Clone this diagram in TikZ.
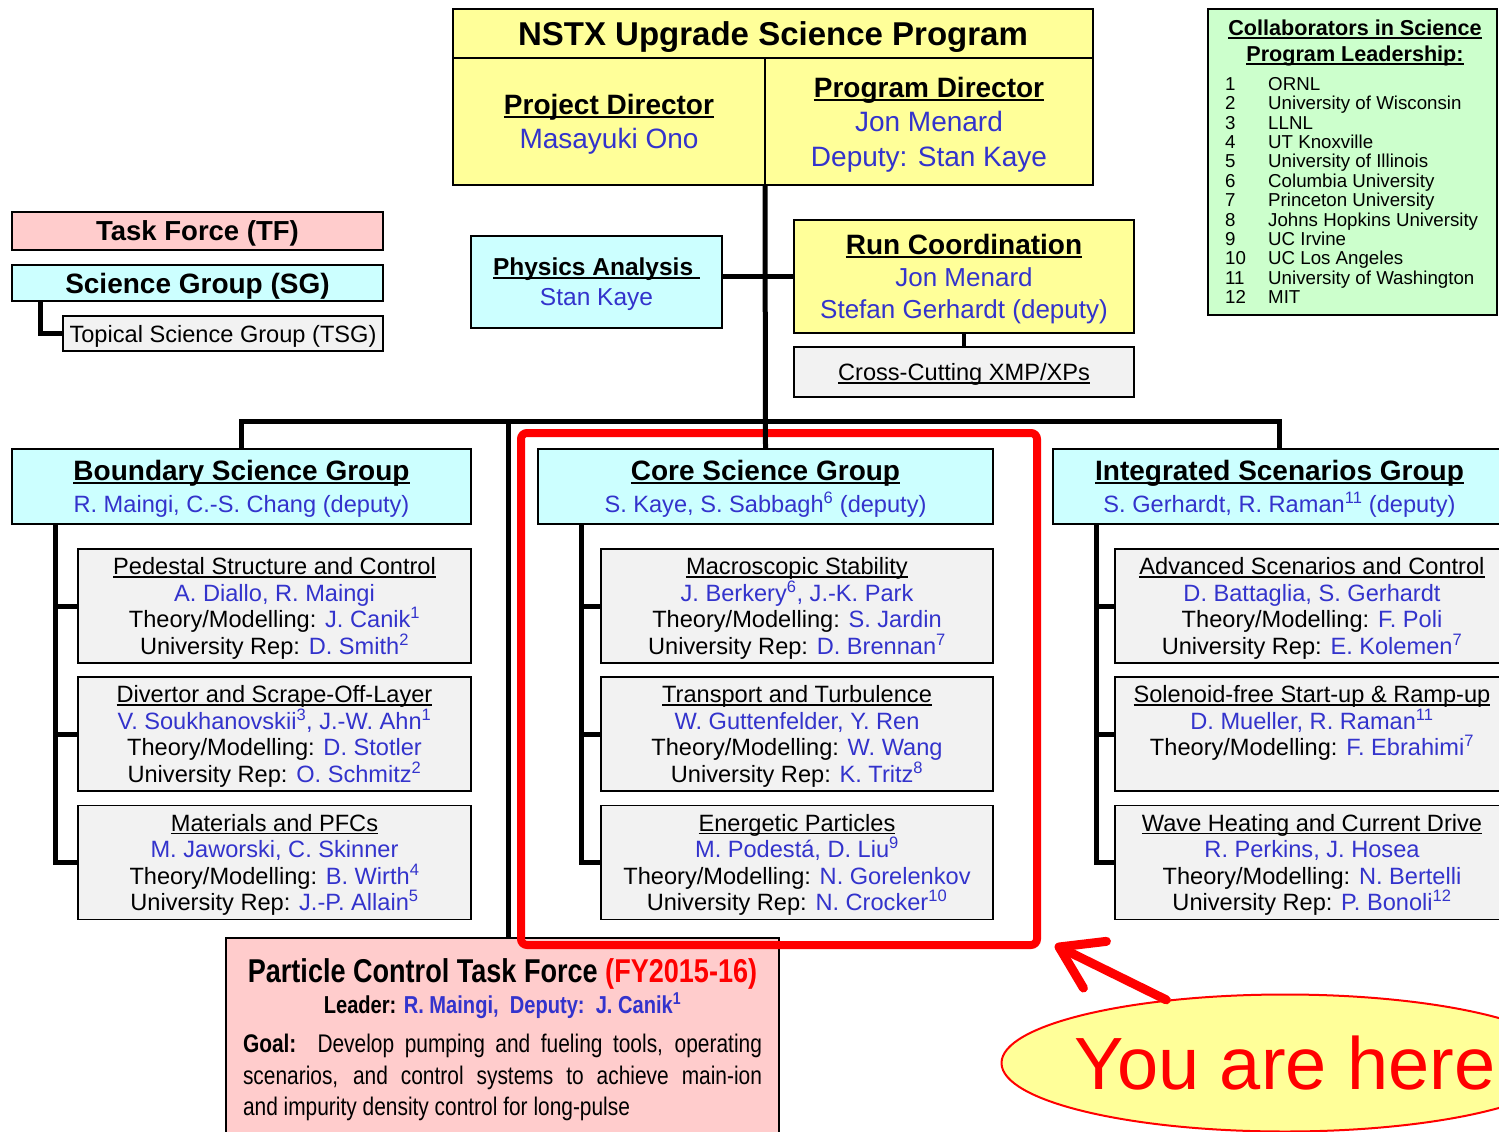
\documentclass[tikz,border=0pt]{standalone}
\usepackage{fontspec}
\setmainfont{Liberation Sans}
\newfontfamily\narrowfont[FakeStretch=0.82]{Liberation Sans}
\usetikzlibrary{shapes.geometric,arrows.meta}
\definecolor{nyellow}{HTML}{FFFF99}
\definecolor{ncyan}{HTML}{CCFFFF}
\definecolor{npink}{HTML}{FFCCCC}
\definecolor{ngrey}{HTML}{F2F2F2}
\definecolor{ngreen}{HTML}{CCFFCC}
\definecolor{nblue}{RGB}{51,51,204}
\definecolor{nred}{HTML}{FF0000}
\newcommand\fs[2]{\fontsize{#1}{#2}\selectfont}
\newsavebox\ulbox
\newcommand\ulx[1]{\sbox\ulbox{#1}\rlap{\rule[-0.13em]{\wd\ulbox}{0.07em}}\usebox\ulbox}
\newcommand\bl[1]{\textcolor{nblue}{#1}}
\newcommand\su[1]{\textsuperscript{#1}}
\tikzset{
  bx/.style={draw=black, line width=1.8pt, inner sep=0pt, outer sep=0pt, align=center, text depth=0pt},
  conn/.style={line width=5pt, black},
  subbox/.style={bx, fill=ngrey, minimum width=393, minimum height=114, font=\fs{23.6}{26.5}},
  grpbox/.style={bx, fill=ncyan, minimum height=75, font=\fs{23.6}{32}, text depth=-7pt},
}
\begin{document}
\begin{tikzpicture}[x=1pt,y=-1pt]
\useasboundingbox (0,0) rectangle (1499,1132);
\clip (0,0) rectangle (1499,1132);

% --- top program box
\node[bx, fill=nyellow, minimum width=640, minimum height=49, font=\fs{33}{38}\bfseries] (nstx) at (773,33.5) {NSTX Upgrade Science Program};
\node[bx, fill=nyellow, minimum width=312, minimum height=127, font=\fs{28}{34}, text depth=-7pt] (projd) at (609,121.5)
  {\ulx{\textbf{Project Director}}\\ \bl{Masayuki Ono}};
\node[bx, fill=nyellow, minimum width=328, minimum height=127, font=\fs{28}{34.5}, text depth=-3.5pt] (progd) at (929,121.5)
  {\ulx{\textbf{Program Director}}\\ \bl{Jon Menard}\\ \bl{Deputy: Stan Kaye}};

% --- collaborators
\node[bx, fill=ngreen, minimum width=289, minimum height=306] (coll) at (1352.5,162) {};
\node[inner sep=0pt, align=center, text depth=0pt, font=\fs{21.6}{26}\bfseries] (collh) at (1355,41)
  {\ulx{Collaborators in Science}\\ \ulx{Program Leadership:}};
\node[inner sep=0pt, align=left, anchor=north west, font=\fs{18.7}{19.4}] (colll) at (1225,77)
  {\makebox[43pt][l]{1}ORNL\\
   \makebox[43pt][l]{2}University of Wisconsin\\
   \makebox[43pt][l]{3}LLNL\\
   \makebox[43pt][l]{4}UT Knoxville\\
   \makebox[43pt][l]{5}University of Illinois\\
   \makebox[43pt][l]{6}Columbia University\\
   \makebox[43pt][l]{7}Princeton University\\
   \makebox[43pt][l]{8}Johns Hopkins University\\
   \makebox[43pt][l]{9}UC Irvine\\
   \makebox[43pt][l]{10}UC Los Angeles\\
   \makebox[43pt][l]{11}University of Washington\\
   \makebox[43pt][l]{12}MIT};

% --- legend
\node[bx, fill=npink, minimum width=371, minimum height=38, font=\fs{27.5}{30}\bfseries] (tf) at (197.5,231) {Task Force (TF)};
\node[bx, fill=ncyan, minimum width=371, minimum height=36, font=\fs{28}{30}\bfseries] (sg) at (197.5,283) {Science Group (SG)};
\node[bx, fill=ngrey, minimum width=320, minimum height=35, font=\fs{23.6}{26}] (tsg) at (223,333.5) {Topical Science Group (TSG)};

% --- physics analysis / run coordination
\node[bx, fill=ncyan, minimum width=251, minimum height=92, font=\fs{24.5}{30}, text depth=-2pt] (pa) at (596.5,282)
  {\ulx{\textbf{Physics Analysis}\ }\\ \bl{Stan Kaye}};
\node[bx, fill=nyellow, minimum width=340, minimum height=113, font=\fs{26}{32}, text depth=-4pt] (rc) at (964,276.5)
  {\ulx{\fs{28}{32}\textbf{Run Coordination}}\\ \bl{Jon Menard}\\ \bl{Stefan Gerhardt (deputy)}};
\node[bx, fill=ngrey, minimum width=340, minimum height=50, font=\fs{23.6}{26}] (cc) at (964,372)
  {\ulx{Cross-Cutting XMP/XPs}};

% --- science groups
\node[grpbox, minimum width=459] (bsg) at (241.5,486.5)
  {\ulx{\fs{28}{32}\textbf{Boundary Science Group}}\\ \bl{R. Maingi, C.-S. Chang (deputy)}};
\node[grpbox, minimum width=455] (csg) at (765.5,486.5)
  {\ulx{\fs{28}{32}\textbf{Core Science Group}}\\ \bl{S. Kaye, S. Sabbagh\su{6} (deputy)}};
\node[grpbox, minimum width=453] (isg) at (1279.5,486.5)
  {\ulx{\fs{28}{32}\textbf{Integrated Scenarios Group}}\\ \bl{S. Gerhardt, R. Raman\su{11} (deputy)}};

% --- boundary TSGs
\node[subbox] (b1) at (274.5,606)
  {\ulx{Pedestal Structure and Control}\\ \bl{A. Diallo, R. Maingi}\\ Theory/Modelling: \bl{J. Canik\su{1}}\\ University Rep: \bl{D. Smith\su{2}}};
\node[subbox] (b2) at (274.5,734)
  {\ulx{Divertor and Scrape-Off-Layer}\\ \bl{V. Soukhanovskii\su{3}, J.-W. Ahn\su{1}}\\ Theory/Modelling: \bl{D. Stotler}\\ University Rep: \bl{O. Schmitz\su{2}}};
\node[subbox] (b3) at (274.5,862.5)
  {\ulx{Materials and PFCs}\\ \bl{M. Jaworski, C. Skinner}\\ Theory/Modelling: \bl{B. Wirth\su{4}}\\ University Rep: \bl{J.-P. Allain\su{5}}};

% --- core TSGs
\node[subbox, minimum width=392] (c1) at (797,606)
  {\ulx{Macroscopic Stability}\\ \bl{J. Berkery\su{6}, J.-K. Park}\\ Theory/Modelling: \bl{S. Jardin}\\ University Rep: \bl{D. Brennan\su{7}}};
\node[subbox, minimum width=392] (c2) at (797,734)
  {\ulx{Transport and Turbulence}\\ \bl{W. Guttenfelder, Y. Ren}\\ Theory/Modelling: \bl{W. Wang}\\ University Rep: \bl{K. Tritz\su{8}}};
\node[subbox, minimum width=392] (c3) at (797,862.5)
  {\ulx{Energetic Particles}\\ \bl{M. Podest\'a, D. Liu\su{9}}\\ Theory/Modelling: \bl{N. Gorelenkov}\\ University Rep: \bl{N. Crocker\su{10}}};

% --- integrated TSGs
\node[subbox, minimum width=394] (i1) at (1312,606)
  {\ulx{Advanced Scenarios and Control}\\ \bl{D. Battaglia, S. Gerhardt}\\ Theory/Modelling: \bl{F. Poli}\\ University Rep: \bl{E. Kolemen\su{7}}};
\node[subbox, minimum width=394] (i2) at (1312,734)
  {\ulx{Solenoid-free Start-up \& Ramp-up}\\ \bl{D. Mueller, R. Raman\su{11}}\\ Theory/Modelling: \bl{F. Ebrahimi\su{7}}\\ ~};
\node[subbox, minimum width=394] (i3) at (1312,862.5)
  {\ulx{Wave Heating and Current Drive}\\ \bl{R. Perkins, J. Hosea}\\ Theory/Modelling: \bl{N. Bertelli}\\ University Rep: \bl{P. Bonoli\su{12}}};

% --- particle control task force
\node[bx, fill=npink, minimum width=553, minimum height=204] (pctf) at (502.5,1040) {};
\node[inner sep=0pt, text depth=0pt, font=\narrowfont\fs{33}{38}\bfseries] (pctft) at (502.5,971)
  {Particle Control Task Force \textcolor{nred}{(FY2015-16)}};
\node[inner sep=0pt, font=\narrowfont\fs{24.5}{28}\bfseries] (pctfl) at (502.5,1006)
  {Leader: \bl{R. Maingi,~~Deputy:~~J. Canik\su{1}}};
\node[inner sep=0pt, anchor=north, align=left, font=\narrowfont\fs{25.5}{31.5}] (pctfg) at (502.5,1034)
  {\makebox[519pt][s]{\textbf{Goal:}\ \ Develop pumping and fueling tools, operating}\\
   \makebox[519pt][s]{scenarios, and control systems to achieve main-ion}\\
   and impurity density control for long-pulse};

% --- highlight
\node[draw=nred, line width=8pt, rounded corners=6pt, inner sep=0pt, outer sep=0pt,
      minimum width=516, minimum height=512] (hl) at (779,689) {};

% --- connectors
\draw[conn] (projd.south east) -- (csg.north);
\draw[conn] (rc.west) -- (rc.west -| pa.east);
\draw[line width=4pt] (rc.south) -- (cc.north);
\coordinate (bar) at (766,421);
\coordinate (tfjoin) at (508,421);
\draw[conn] (bsg.north) |- (bar) -| (isg.north);
\draw[conn] (tfjoin) -- (tfjoin |- pctf.north);
\draw[conn] ([xshift=28pt]sg.south west) |- (tsg.west);
\foreach \g/\a/\b/\c in {bsg/b1/b2/b3, csg/c1/c2/c3, isg/i1/i2/i3}{
  \draw[conn] ([xshift=43pt]\g.south west) |- (\c.west);
  \draw[conn] ([xshift=43pt]\g.south west) |- (\a.west);
  \draw[conn] ([xshift=43pt]\g.south west) |- (\b.west);
}

% --- you are here
\node[ellipse, draw=nred, line width=2pt, fill=nyellow, inner sep=0pt,
      minimum width=567, minimum height=137, text=nred, font=\fs{74}{80}] (ell) at (1285,1063) {\makebox[0pt]{You are here}};
\draw[nred, line width=9pt, line cap=round,
      -{Straight Barb[length=40pt, width=52pt, line cap=round, line join=round]}]
  (ell.152) -- ([xshift=18pt]hl.south east);
\end{tikzpicture}
\end{document}
